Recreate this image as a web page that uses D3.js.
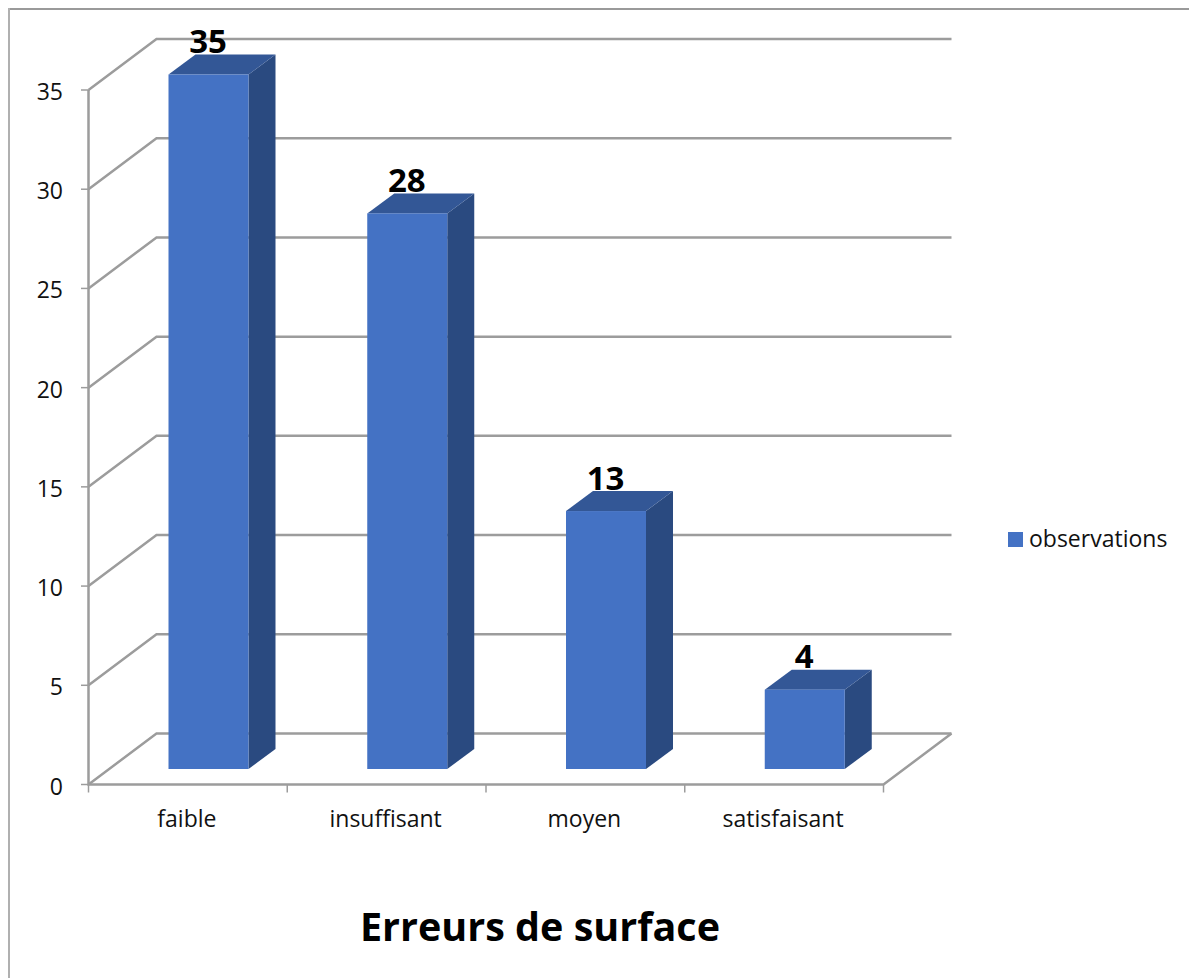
<!DOCTYPE html>
<html><head><meta charset="utf-8">
<style>html,body{margin:0;padding:0;background:#fff}svg{display:block}text{font-family:"Open Sans","Noto Sans",sans-serif}</style>
<script src="https://cdn.jsdelivr.net/npm/d3@7"></script></head>
<body><svg id="c" width="1189" height="978"></svg>
<script>
const categories = ["faible", "insuffisant", "moyen", "satisfaisant"];
const observations = [35, 28, 13, 4];
const yTicks = [0, 5, 10, 15, 20, 25, 30, 35];
const seriesName = "observations";
const chartTitle = "Erreurs de surface";

const svg = d3.select("#c");
const W = 1189, H = 978;
const axisGrey = "#9c9c9c";

// frame: top and left edges only
svg.append("line").attr("x1", 8).attr("x2", W).attr("y1", 9).attr("y2", 9).attr("stroke", "#9a9a9a").attr("stroke-width", 2);
svg.append("line").attr("x1", 9).attr("x2", 9).attr("y1", 8).attr("y2", H).attr("stroke", "#b0b0b0").attr("stroke-width", 2);

const x = d3.scaleBand().domain(categories).range([88.5, 883.5]).paddingInner(0).paddingOuter(0);
const y = d3.scaleLinear().domain([0, 35]).range([784.5, 90]);
const wallDx = 68, wallDy = -51;          // offset from front plane to back wall
const barDx = 27, barDy = -20;            // depth of each bar
const barW = 80, barLift = -15.5, barInset = 80;

const grid = svg.append("g").attr("fill", "none").attr("stroke", axisGrey).attr("stroke-width", 2.5);
// back-wall gridlines and their diagonal links to the axis
yTicks.forEach(t => {
  grid.append("path").attr("d", d3.line()([
    [x.range()[0], y(t)],
    [x.range()[0] + wallDx, y(t) + wallDy],
    [x.range()[1] + wallDx, y(t) + wallDy]
  ]));
});
// floor edge on the right, front axis lines
grid.append("path").attr("d", d3.line()([
  [x.range()[1] + wallDx, y(0) + wallDy],
  [x.range()[1], y(0)],
  [x.range()[0], y(0)],
  [x.range()[0], y(35)]
]));

// axis ticks
const ticks = svg.append("g").attr("stroke", axisGrey).attr("stroke-width", 1.5);
yTicks.forEach(t => ticks.append("line").attr("x1", 81).attr("x2", x.range()[0]).attr("y1", y(t)).attr("y2", y(t)));
categories.concat([null]).forEach((c, i) => {
  const px = x.range()[0] + i * x.step();
  ticks.append("line").attr("x1", px).attr("x2", px).attr("y1", y(0)).attr("y2", y(0) + 8);
});

// axis labels
svg.append("g").selectAll("text").data(yTicks).join("text")
  .attr("x", 63).attr("y", d => y(d) + 10).attr("text-anchor", "end")
  .attr("font-size", 23).attr("fill", "#111").text(d => d);
svg.append("g").selectAll("text").data(categories).join("text")
  .attr("x", d => x(d) + x.bandwidth() / 2 - 1).attr("y", 827).attr("text-anchor", "middle")
  .attr("font-size", 23).attr("fill", "#111").text(d => d);

// bars: front, top and side faces
const bars = svg.append("g").selectAll("g").data(categories).join("g");
bars.each(function (c, i) {
  const g = d3.select(this);
  const x0 = x(c) + barInset, x1 = x0 + barW;
  const yb = y(0) + barLift, yt = y(observations[i]) + barLift;
  const line = d3.line();
  g.append("path").attr("d", line([[x1, yt], [x1 + barDx, yt + barDy], [x1 + barDx, yb + barDy], [x1, yb]]) + "Z").attr("fill", "#2a4a80");
  g.append("path").attr("d", line([[x0, yt], [x0 + barDx, yt + barDy], [x1 + barDx, yt + barDy], [x1, yt]]) + "Z").attr("fill", "#335796");
  g.append("rect").attr("x", x0).attr("y", yt).attr("width", barW).attr("height", yb - yt).attr("fill", "#4472c4");
  g.append("text").attr("x", x0 + 39.5).attr("y", yt - 21.5).attr("text-anchor", "middle")
    .attr("font-size", 33).attr("font-weight", 700).attr("fill", "#000").text(observations[i]);
});

// legend
svg.append("rect").attr("x", 1008).attr("y", 532).attr("width", 15).attr("height", 15).attr("fill", "#4472c4");
svg.append("text").attr("x", 1029).attr("y", 547).attr("font-size", 23).attr("fill", "#111").text(seriesName);

// title
svg.append("text").attr("x", 540).attr("y", 941).attr("text-anchor", "middle")
  .attr("font-size", 39.5).attr("font-weight", 700).attr("fill", "#000").text(chartTitle);
</script></body></html>
